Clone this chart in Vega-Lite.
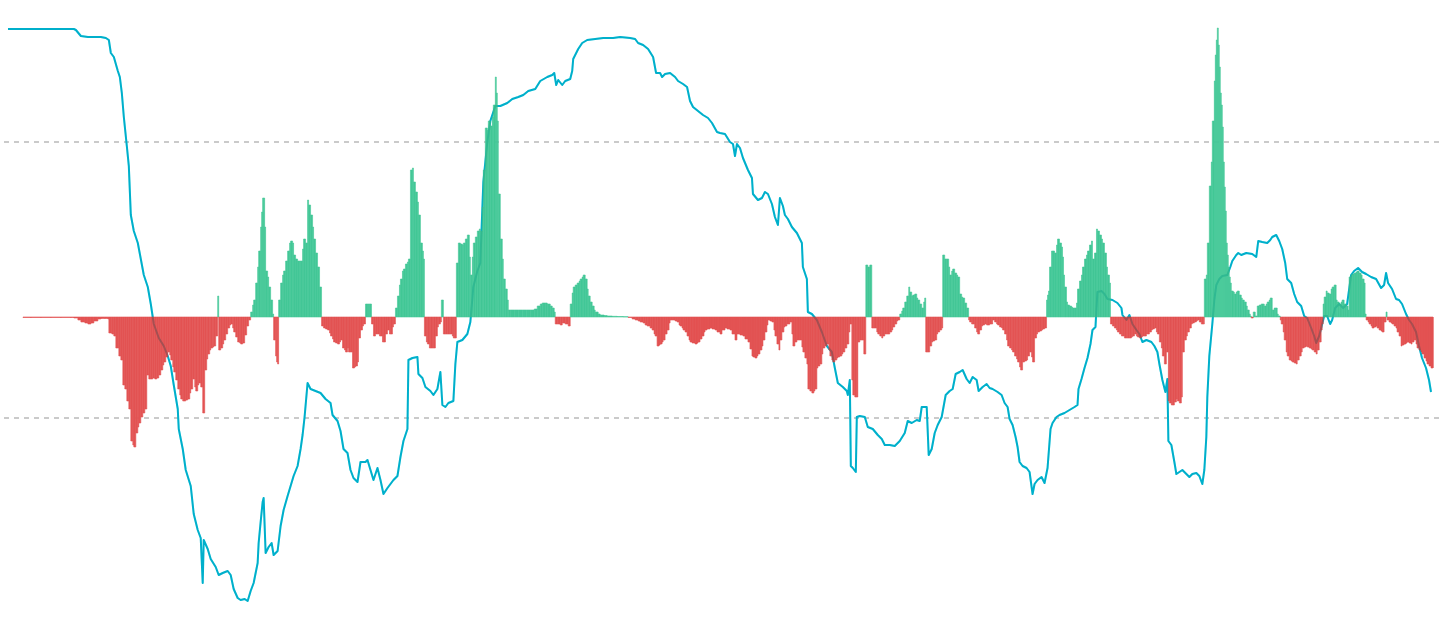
{
  "$schema": "https://vega.github.io/schema/vega-lite/v6.json",
  "width": 1440,
  "height": 633,
  "autosize": {"type": "fit", "contains": "padding"},
  "padding": 0,
  "background": "#ffffff",
  "config": {"view": {"stroke": null}},
  "datasets": {
    "hist": [
      {"t":22,"v":-0.5},{"t":30,"v":-0.5},{"t":40,"v":-0.5},{"t":50,"v":-0.5},{"t":60,"v":-0.5},{"t":70,"v":-0.5},
      {"t":73,"v":-1},{"t":77,"v":-3},{"t":80,"v":-5},{"t":84,"v":-6},{"t":87,"v":-7},{"t":90,"v":-6},{"t":93,"v":-4},{"t":97,"v":-2},{"t":100,"v":-1.5},{"t":104,"v":-1.5},{"t":107,"v":-2},
      {"t":108,"v":-16},{"t":111,"v":-17},{"t":113,"v":-19},{"t":115,"v":-31},{"t":118,"v":-39},{"t":120,"v":-43},{"t":122,"v":-68},{"t":124,"v":-72},{"t":126,"v":-84},{"t":128,"v":-92},{"t":130,"v":-124},{"t":132,"v":-128},{"t":133,"v":-130},{"t":135,"v":-116},{"t":137,"v":-110},{"t":138,"v":-106},{"t":140,"v":-100},{"t":142,"v":-96},{"t":144,"v":-92},{"t":146,"v":-58},{"t":148,"v":-62},{"t":150,"v":-62},{"t":152,"v":-61},{"t":154,"v":-62},{"t":156,"v":-61},{"t":158,"v":-58},{"t":160,"v":-53},{"t":162,"v":-48},{"t":163,"v":-45},{"t":165,"v":-40},{"t":167,"v":-35},{"t":169,"v":-38},{"t":170,"v":-43},{"t":172,"v":-50},{"t":173,"v":-55},{"t":175,"v":-63},{"t":177,"v":-72},{"t":179,"v":-78},{"t":180,"v":-82},{"t":182,"v":-84},{"t":183,"v":-84},{"t":185,"v":-83},{"t":187,"v":-82},{"t":189,"v":-76},{"t":190,"v":-72},{"t":192,"v":-62},{"t":194,"v":-70},{"t":195,"v":-74},{"t":197,"v":-68},{"t":198,"v":-66},{"t":200,"v":-70},{"t":202,"v":-96},{"t":204,"v":-53},{"t":206,"v":-42},{"t":207,"v":-37},{"t":209,"v":-33},{"t":210,"v":-31},{"t":212,"v":-30},{"t":213,"v":-29},{"t":215,"v":-19},{"t":217,"v":21},{"t":218,"v":-33},{"t":220,"v":-31},{"t":222,"v":-27},{"t":223,"v":-23},{"t":225,"v":-17},{"t":227,"v":-11},{"t":229,"v":-8},{"t":230,"v":-7},{"t":232,"v":-11},{"t":233,"v":-15},{"t":235,"v":-20},{"t":237,"v":-25},{"t":239,"v":-26},{"t":240,"v":-27},{"t":242,"v":-26},{"t":244,"v":-18},{"t":246,"v":-9},{"t":248,"v":-3},
      {"t":250,"v":5},{"t":252,"v":12},{"t":253,"v":17},{"t":255,"v":34},{"t":257,"v":50},{"t":258,"v":66},{"t":260,"v":90},{"t":261,"v":105},{"t":262,"v":119},{"t":263,"v":119},{"t":264,"v":90},{"t":265,"v":46},{"t":267,"v":40},{"t":268,"v":30},{"t":270,"v":17},{"t":272,"v":3},{"t":273,"v":-23},{"t":275,"v":-39},{"t":276,"v":-45},{"t":277,"v":-47},{"t":278,"v":17},{"t":280,"v":34},{"t":282,"v":42},{"t":283,"v":46},{"t":285,"v":56},{"t":287,"v":66},{"t":289,"v":74},{"t":290,"v":76},{"t":292,"v":74},{"t":293,"v":62},{"t":295,"v":58},{"t":297,"v":56},{"t":299,"v":56},{"t":300,"v":56},{"t":302,"v":68},{"t":303,"v":78},{"t":305,"v":74},{"t":307,"v":117},{"t":308,"v":112},{"t":310,"v":102},{"t":312,"v":90},{"t":313,"v":78},{"t":315,"v":64},{"t":317,"v":50},{"t":319,"v":30},
      {"t":321,"v":-9},{"t":323,"v":-11},{"t":325,"v":-12},{"t":327,"v":-13},{"t":329,"v":-16},{"t":330,"v":-19},{"t":332,"v":-22},{"t":333,"v":-25},{"t":335,"v":-26},{"t":337,"v":-27},{"t":339,"v":-25},{"t":340,"v":-23},{"t":342,"v":-31},{"t":344,"v":-33},{"t":345,"v":-35},{"t":347,"v":-31},{"t":348,"v":-35},{"t":350,"v":-35},{"t":352,"v":-51},{"t":354,"v":-50},{"t":355,"v":-49},{"t":357,"v":-45},{"t":358,"v":-21},{"t":360,"v":-13},{"t":362,"v":-9},{"t":363,"v":-7},{"t":365,"v":13},{"t":367,"v":13},{"t":368,"v":13},{"t":369,"v":13},{"t":371,"v":-7},{"t":373,"v":-19},{"t":375,"v":-17},{"t":377,"v":-17},{"t":379,"v":-19},{"t":380,"v":-19},{"t":382,"v":-25},{"t":383,"v":-25},{"t":385,"v":-17},{"t":387,"v":-13},{"t":389,"v":-17},{"t":390,"v":-17},{"t":392,"v":-10},{"t":393,"v":-7},
      {"t":395,"v":9},{"t":397,"v":21},{"t":399,"v":32},{"t":400,"v":38},{"t":402,"v":46},{"t":403,"v":48},{"t":405,"v":53},{"t":407,"v":55},{"t":408,"v":58},{"t":410,"v":147},{"t":412,"v":149},{"t":413,"v":135},{"t":415,"v":125},{"t":417,"v":115},{"t":418,"v":102},{"t":420,"v":74},{"t":422,"v":66},{"t":423,"v":58},{"t":424,"v":-19},{"t":426,"v":-25},{"t":427,"v":-27},{"t":429,"v":-31},{"t":430,"v":-31},{"t":432,"v":-31},{"t":433,"v":-31},{"t":435,"v":-19},{"t":437,"v":-10},{"t":438,"v":-7},{"t":440,"v":-5},{"t":441,"v":17},{"t":443,"v":-17},{"t":445,"v":-17},{"t":447,"v":-17},{"t":449,"v":-17},{"t":450,"v":-17},{"t":452,"v":-19},{"t":453,"v":-21},{"t":454,"v":-21},
      {"t":456,"v":54},{"t":458,"v":74},{"t":460,"v":73},{"t":462,"v":72},{"t":463,"v":74},{"t":465,"v":78},{"t":467,"v":82},{"t":469,"v":60},{"t":470,"v":42},{"t":472,"v":60},{"t":473,"v":74},{"t":475,"v":80},{"t":477,"v":86},{"t":479,"v":88},{"t":480,"v":86},{"t":482,"v":110},{"t":483,"v":147},{"t":485,"v":189},{"t":487,"v":187},{"t":488,"v":196},{"t":490,"v":191},{"t":492,"v":200},{"t":493,"v":212},{"t":495,"v":240},{"t":496,"v":224},{"t":497,"v":196},{"t":498,"v":123},{"t":500,"v":78},{"t":502,"v":58},{"t":503,"v":38},{"t":505,"v":28},{"t":507,"v":17},{"t":508,"v":7},{"t":510,"v":7},{"t":514,"v":7},{"t":518,"v":7},{"t":522,"v":7},{"t":526,"v":7},{"t":530,"v":7},{"t":534,"v":8},{"t":537,"v":11},{"t":540,"v":13},{"t":542,"v":14},{"t":545,"v":14},{"t":547,"v":13},{"t":550,"v":11},{"t":552,"v":9},{"t":554,"v":5},
      {"t":555,"v":-7},{"t":557,"v":-7},{"t":560,"v":-8},{"t":562,"v":-6},{"t":565,"v":-7},{"t":568,"v":-9},
      {"t":570,"v":13},{"t":572,"v":24},{"t":573,"v":30},{"t":575,"v":32},{"t":577,"v":34},{"t":579,"v":36},{"t":580,"v":38},{"t":582,"v":40},{"t":583,"v":42},{"t":585,"v":38},{"t":587,"v":28},{"t":588,"v":21},{"t":590,"v":15},{"t":592,"v":11},{"t":594,"v":7},{"t":595,"v":5},{"t":598,"v":3},{"t":600,"v":2},{"t":604,"v":1.5},{"t":607,"v":1},{"t":612,"v":0.7},{"t":617,"v":0.5},{"t":623,"v":0.3},
      {"t":628,"v":-0.5},{"t":632,"v":-2},{"t":635,"v":-3},{"t":638,"v":-4},{"t":640,"v":-5},{"t":643,"v":-6},{"t":645,"v":-8},{"t":647,"v":-9},{"t":650,"v":-11},{"t":652,"v":-13},{"t":654,"v":-17},{"t":655,"v":-19},{"t":657,"v":-29},{"t":659,"v":-28},{"t":660,"v":-27},{"t":662,"v":-25},{"t":663,"v":-23},{"t":665,"v":-17},{"t":667,"v":-13},{"t":669,"v":-6},{"t":670,"v":-3},{"t":672,"v":-3},{"t":675,"v":-4},{"t":677,"v":-5},{"t":679,"v":-8},{"t":680,"v":-9},{"t":682,"v":-11},{"t":683,"v":-13},{"t":685,"v":-15},{"t":687,"v":-19},{"t":689,"v":-23},{"t":690,"v":-25},{"t":692,"v":-26},{"t":695,"v":-27},{"t":697,"v":-26},{"t":698,"v":-25},{"t":700,"v":-22},{"t":702,"v":-19},{"t":704,"v":-15},{"t":705,"v":-13},{"t":707,"v":-12},{"t":710,"v":-11},{"t":712,"v":-12},{"t":715,"v":-13},{"t":717,"v":-15},{"t":720,"v":-17},
      {"t":722,"v":-13},{"t":725,"v":-11},{"t":727,"v":-12},{"t":730,"v":-13},{"t":732,"v":-17},{"t":735,"v":-23},{"t":737,"v":-17},{"t":738,"v":-17},{"t":740,"v":-18},{"t":743,"v":-19},{"t":745,"v":-22},{"t":748,"v":-25},{"t":750,"v":-32},{"t":752,"v":-39},{"t":753,"v":-40},{"t":755,"v":-41},{"t":757,"v":-39},{"t":758,"v":-37},{"t":760,"v":-33},{"t":762,"v":-29},{"t":763,"v":-23},{"t":765,"v":-15},{"t":767,"v":-8},{"t":768,"v":-3},{"t":770,"v":-4},{"t":772,"v":-5},{"t":774,"v":-13},{"t":775,"v":-19},{"t":777,"v":-27},{"t":779,"v":-33},{"t":780,"v":-23},{"t":782,"v":-15},{"t":784,"v":-10},{"t":785,"v":-9},{"t":787,"v":-7},{"t":790,"v":-5},{"t":792,"v":-17},{"t":793,"v":-29},{"t":795,"v":-25},{"t":797,"v":-23},{"t":798,"v":-23},{"t":800,"v":-23},{"t":802,"v":-30},{"t":803,"v":-35},{"t":805,"v":-41},{"t":807,"v":-47},{"t":808,"v":-72},{"t":810,"v":-74},{"t":812,"v":-76},{"t":814,"v":-74},{"t":815,"v":-72},{"t":817,"v":-51},{"t":818,"v":-49},{"t":820,"v":-47},{"t":822,"v":-37},{"t":823,"v":-31},{"t":825,"v":-29},{"t":827,"v":-27},{"t":829,"v":-33},{"t":830,"v":-39},{"t":832,"v":-43},{"t":833,"v":-45},{"t":835,"v":-43},{"t":837,"v":-41},{"t":838,"v":-40},{"t":840,"v":-39},{"t":842,"v":-37},{"t":843,"v":-35},{"t":845,"v":-31},{"t":847,"v":-27},{"t":849,"v":-15},{"t":850,"v":-7},{"t":852,"v":-63},{"t":853,"v":-78},{"t":855,"v":-80},{"t":857,"v":-80},{"t":858,"v":-25},{"t":860,"v":-23},{"t":862,"v":-23},{"t":864,"v":-37},
      {"t":866,"v":52},{"t":868,"v":50},{"t":870,"v":52},
      {"t":872,"v":-11},{"t":874,"v":-11},{"t":875,"v":-11},{"t":877,"v":-15},{"t":878,"v":-17},{"t":880,"v":-19},{"t":882,"v":-21},{"t":883,"v":-19},{"t":885,"v":-17},{"t":887,"v":-17},{"t":888,"v":-17},{"t":890,"v":-15},{"t":892,"v":-13},{"t":893,"v":-10},{"t":895,"v":-7},{"t":897,"v":-4},{"t":898,"v":-3},
      {"t":900,"v":3},{"t":902,"v":6},{"t":903,"v":9},{"t":905,"v":15},{"t":907,"v":21},{"t":909,"v":30},{"t":910,"v":25},{"t":912,"v":21},{"t":913,"v":22},{"t":915,"v":23},{"t":917,"v":19},{"t":918,"v":17},{"t":920,"v":13},{"t":922,"v":9},{"t":924,"v":15},{"t":925,"v":19},
      {"t":926,"v":-35},{"t":928,"v":-35},{"t":930,"v":-29},{"t":932,"v":-25},{"t":933,"v":-24},{"t":935,"v":-23},{"t":937,"v":-17},{"t":938,"v":-15},{"t":940,"v":-13},{"t":942,"v":-11},
      {"t":943,"v":62},{"t":945,"v":58},{"t":947,"v":58},{"t":949,"v":50},{"t":950,"v":42},{"t":952,"v":46},{"t":953,"v":48},{"t":955,"v":44},{"t":957,"v":42},{"t":958,"v":40},{"t":960,"v":23},{"t":962,"v":20},{"t":963,"v":19},{"t":965,"v":14},{"t":967,"v":9},
      {"t":969,"v":-3},{"t":970,"v":-5},{"t":972,"v":-7},{"t":973,"v":-7},{"t":975,"v":-11},{"t":977,"v":-15},{"t":978,"v":-17},{"t":980,"v":-13},{"t":982,"v":-9},{"t":983,"v":-8},{"t":985,"v":-7},{"t":987,"v":-8},{"t":988,"v":-8},{"t":990,"v":-7},{"t":992,"v":-7},{"t":993,"v":-3},{"t":995,"v":-5},{"t":997,"v":-7},{"t":998,"v":-8},{"t":1000,"v":-10},{"t":1002,"v":-11},{"t":1003,"v":-13},{"t":1005,"v":-17},{"t":1007,"v":-23},{"t":1008,"v":-29},{"t":1010,"v":-31},{"t":1012,"v":-33},{"t":1013,"v":-35},{"t":1015,"v":-39},{"t":1017,"v":-42},{"t":1018,"v":-45},{"t":1020,"v":-50},{"t":1021,"v":-53},{"t":1023,"v":-45},{"t":1025,"v":-44},{"t":1027,"v":-43},{"t":1028,"v":-39},{"t":1030,"v":-35},{"t":1032,"v":-40},{"t":1033,"v":-45},{"t":1035,"v":-21},{"t":1037,"v":-17},{"t":1038,"v":-15},{"t":1040,"v":-14},{"t":1042,"v":-13},{"t":1043,"v":-12},{"t":1045,"v":-11},
      {"t":1047,"v":17},{"t":1048,"v":22},{"t":1049,"v":26},{"t":1050,"v":50},{"t":1052,"v":66},{"t":1053,"v":66},{"t":1055,"v":64},{"t":1057,"v":72},{"t":1058,"v":78},{"t":1060,"v":74},{"t":1062,"v":70},{"t":1063,"v":60},{"t":1064,"v":42},{"t":1065,"v":30},{"t":1067,"v":15},{"t":1068,"v":12},{"t":1070,"v":11},{"t":1072,"v":10},{"t":1073,"v":9},{"t":1075,"v":9},{"t":1077,"v":14},{"t":1078,"v":28},{"t":1080,"v":36},{"t":1082,"v":42},{"t":1083,"v":50},{"t":1085,"v":58},{"t":1087,"v":62},{"t":1088,"v":66},{"t":1090,"v":72},{"t":1092,"v":76},{"t":1093,"v":58},{"t":1095,"v":64},{"t":1097,"v":88},{"t":1098,"v":86},{"t":1100,"v":82},{"t":1102,"v":78},{"t":1103,"v":74},{"t":1105,"v":64},{"t":1107,"v":50},{"t":1108,"v":42},{"t":1110,"v":34},
      {"t":1111,"v":-7},{"t":1113,"v":-9},{"t":1115,"v":-11},{"t":1117,"v":-13},{"t":1118,"v":-15},{"t":1120,"v":-17},{"t":1122,"v":-19},{"t":1123,"v":-19},{"t":1125,"v":-21},{"t":1127,"v":-21},{"t":1128,"v":-21},{"t":1130,"v":-21},{"t":1132,"v":-20},{"t":1133,"v":-19},{"t":1135,"v":-17},{"t":1137,"v":-19},{"t":1138,"v":-20},{"t":1140,"v":-21},{"t":1142,"v":-20},{"t":1143,"v":-19},{"t":1145,"v":-19},{"t":1147,"v":-17},{"t":1148,"v":-17},{"t":1150,"v":-15},{"t":1152,"v":-13},{"t":1153,"v":-12},{"t":1155,"v":-11},{"t":1157,"v":-15},{"t":1158,"v":-17},{"t":1160,"v":-25},{"t":1162,"v":-31},{"t":1163,"v":-39},{"t":1165,"v":-47},{"t":1167,"v":-35},{"t":1169,"v":-84},{"t":1170,"v":-86},{"t":1172,"v":-88},{"t":1173,"v":-88},{"t":1175,"v":-85},{"t":1177,"v":-82},{"t":1178,"v":-84},{"t":1180,"v":-86},{"t":1182,"v":-80},{"t":1183,"v":-35},{"t":1185,"v":-23},{"t":1187,"v":-19},{"t":1188,"v":-15},{"t":1190,"v":-11},{"t":1192,"v":-7},{"t":1193,"v":-6},{"t":1195,"v":-5},{"t":1197,"v":-4},{"t":1198,"v":-3},{"t":1200,"v":-5},{"t":1202,"v":-7},{"t":1204,"v":-7},
      {"t":1205,"v":38},{"t":1207,"v":42},{"t":1208,"v":74},{"t":1210,"v":131},{"t":1212,"v":155},{"t":1213,"v":196},{"t":1215,"v":236},{"t":1216,"v":262},{"t":1217,"v":277},{"t":1218,"v":289},{"t":1219,"v":272},{"t":1220,"v":250},{"t":1221,"v":224},{"t":1222,"v":212},{"t":1223,"v":190},{"t":1224,"v":155},{"t":1225,"v":130},{"t":1226,"v":106},{"t":1227,"v":74},{"t":1228,"v":62},{"t":1229,"v":50},{"t":1230,"v":40},{"t":1231,"v":34},{"t":1232,"v":26},{"t":1234,"v":25},{"t":1235,"v":23},{"t":1237,"v":25},{"t":1238,"v":26},{"t":1240,"v":22},{"t":1242,"v":19},{"t":1243,"v":17},{"t":1245,"v":15},{"t":1247,"v":11},{"t":1248,"v":7},{"t":1250,"v":3},{"t":1251,"v":1},{"t":1252,"v":-1},{"t":1254,"v":5},{"t":1256,"v":1},{"t":1258,"v":11},{"t":1260,"v":12},{"t":1262,"v":13},{"t":1264,"v":13},{"t":1265,"v":11},{"t":1267,"v":13},{"t":1268,"v":15},{"t":1270,"v":17},{"t":1271,"v":19},{"t":1273,"v":7},{"t":1275,"v":9},{"t":1276,"v":9},{"t":1278,"v":3},{"t":1279,"v":1},
      {"t":1281,"v":-3},{"t":1282,"v":-7},{"t":1284,"v":-15},{"t":1285,"v":-23},{"t":1287,"v":-35},{"t":1288,"v":-39},{"t":1290,"v":-43},{"t":1292,"v":-44},{"t":1293,"v":-45},{"t":1295,"v":-46},{"t":1297,"v":-47},{"t":1298,"v":-43},{"t":1300,"v":-39},{"t":1302,"v":-35},{"t":1303,"v":-31},{"t":1305,"v":-30},{"t":1307,"v":-29},{"t":1308,"v":-30},{"t":1310,"v":-31},{"t":1312,"v":-32},{"t":1313,"v":-33},{"t":1315,"v":-35},{"t":1317,"v":-37},{"t":1318,"v":-33},{"t":1320,"v":-25},{"t":1322,"v":-13},{"t":1323,"v":-7},
      {"t":1324,"v":13},{"t":1325,"v":20},{"t":1327,"v":26},{"t":1328,"v":24},{"t":1330,"v":23},{"t":1332,"v":28},{"t":1333,"v":30},{"t":1335,"v":32},{"t":1337,"v":17},{"t":1338,"v":15},{"t":1340,"v":13},{"t":1342,"v":15},{"t":1343,"v":17},{"t":1345,"v":13},{"t":1347,"v":11},{"t":1349,"v":7},{"t":1350,"v":40},{"t":1352,"v":42},{"t":1353,"v":43},{"t":1355,"v":44},{"t":1357,"v":45},{"t":1358,"v":46},{"t":1360,"v":44},{"t":1362,"v":42},{"t":1363,"v":38},{"t":1365,"v":34},{"t":1366,"v":3},
      {"t":1367,"v":-3},{"t":1369,"v":-5},{"t":1370,"v":-7},{"t":1372,"v":-9},{"t":1373,"v":-11},{"t":1375,"v":-10},{"t":1377,"v":-9},{"t":1378,"v":-11},{"t":1380,"v":-13},{"t":1382,"v":-14},{"t":1383,"v":-15},{"t":1385,"v":-5},{"t":1387,"v":5},{"t":1388,"v":-3},{"t":1390,"v":-5},{"t":1392,"v":-6},{"t":1393,"v":-7},{"t":1395,"v":-9},{"t":1397,"v":-11},{"t":1398,"v":-15},{"t":1400,"v":-19},{"t":1402,"v":-29},{"t":1403,"v":-28},{"t":1405,"v":-27},{"t":1407,"v":-26},{"t":1408,"v":-25},{"t":1410,"v":-26},{"t":1412,"v":-27},{"t":1413,"v":-25},{"t":1415,"v":-23},{"t":1417,"v":-27},{"t":1418,"v":-31},{"t":1420,"v":-33},{"t":1422,"v":-35},{"t":1423,"v":-37},{"t":1425,"v":-41},{"t":1427,"v":-44},{"t":1428,"v":-47},{"t":1430,"v":-49},{"t":1432,"v":-51},{"t":1433,"v":-51},{"t":1434,"v":-51}
    ],
    "line": [
      {"t":7,"v":288},{"t":20,"v":288},{"t":40,"v":288},{"t":60,"v":288},{"t":73,"v":288},{"t":75,"v":287},{"t":80,"v":281},{"t":87,"v":280},{"t":100,"v":280},{"t":105,"v":279},{"t":108,"v":277},{"t":110,"v":264},{"t":113,"v":260},{"t":117,"v":246},{"t":119,"v":240},{"t":121,"v":224},{"t":123,"v":200},{"t":126,"v":171},{"t":128,"v":151},{"t":130,"v":102},{"t":133,"v":86},{"t":137,"v":74},{"t":140,"v":58},{"t":143,"v":42},{"t":147,"v":30},{"t":150,"v":13},{"t":153,"v":-7},{"t":158,"v":-21},{"t":163,"v":-29},{"t":167,"v":-39},{"t":170,"v":-49},{"t":173,"v":-68},{"t":177,"v":-92},{"t":178,"v":-112},{"t":182,"v":-132},{"t":185,"v":-153},{"t":190,"v":-169},{"t":193,"v":-197},{"t":197,"v":-213},{"t":200,"v":-221},{"t":202,"v":-266},{"t":203,"v":-223},{"t":207,"v":-232},{"t":210,"v":-242},{"t":215,"v":-250},{"t":218,"v":-258},{"t":222,"v":-256},{"t":227,"v":-254},{"t":230,"v":-258},{"t":233,"v":-272},{"t":237,"v":-281},{"t":240,"v":-283},{"t":244,"v":-282},{"t":247,"v":-284},{"t":250,"v":-274},{"t":253,"v":-266},{"t":257,"v":-246},{"t":258,"v":-226},{"t":260,"v":-205},{"t":262,"v":-185},{"t":263,"v":-181},{"t":265,"v":-236},{"t":268,"v":-230},{"t":271,"v":-226},{"t":273,"v":-238},{"t":277,"v":-234},{"t":280,"v":-209},{"t":283,"v":-193},{"t":287,"v":-179},{"t":290,"v":-169},{"t":293,"v":-159},{"t":297,"v":-149},{"t":300,"v":-132},{"t":302,"v":-118},{"t":304,"v":-100},{"t":307,"v":-66},{"t":310,"v":-72},{"t":315,"v":-74},{"t":320,"v":-76},{"t":325,"v":-82},{"t":330,"v":-86},{"t":332,"v":-98},{"t":337,"v":-104},{"t":340,"v":-114},{"t":343,"v":-132},{"t":347,"v":-136},{"t":350,"v":-153},{"t":353,"v":-161},{"t":357,"v":-165},{"t":360,"v":-145},{"t":365,"v":-145},{"t":367,"v":-143},{"t":370,"v":-153},{"t":373,"v":-163},{"t":377,"v":-151},{"t":380,"v":-163},{"t":383,"v":-177},{"t":387,"v":-171},{"t":390,"v":-167},{"t":393,"v":-163},{"t":397,"v":-159},{"t":400,"v":-140},{"t":403,"v":-124},{"t":407,"v":-112},{"t":408,"v":-43},{"t":412,"v":-41},{"t":417,"v":-40},{"t":418,"v":-57},{"t":422,"v":-61},{"t":425,"v":-70},{"t":430,"v":-74},{"t":433,"v":-78},{"t":437,"v":-72},{"t":440,"v":-55},{"t":442,"v":-88},{"t":445,"v":-90},{"t":448,"v":-86},{"t":453,"v":-84},{"t":455,"v":-47},{"t":457,"v":-25},{"t":462,"v":-23},{"t":467,"v":-17},{"t":470,"v":-5},{"t":473,"v":30},{"t":477,"v":46},{"t":480,"v":54},{"t":483,"v":135},{"t":487,"v":175},{"t":490,"v":196},{"t":495,"v":211},{"t":500,"v":211},{"t":507,"v":214},{"t":512,"v":218},{"t":518,"v":220},{"t":523,"v":222},{"t":528,"v":226},{"t":535,"v":228},{"t":540,"v":236},{"t":547,"v":240},{"t":552,"v":242},{"t":554,"v":244},{"t":556,"v":232},{"t":558,"v":237},{"t":562,"v":232},{"t":565,"v":236},{"t":570,"v":238},{"t":572,"v":246},{"t":573,"v":258},{"t":578,"v":268},{"t":582,"v":274},{"t":587,"v":277},{"t":595,"v":278},{"t":603,"v":279},{"t":613,"v":279},{"t":620,"v":280},{"t":630,"v":279},{"t":635,"v":278},{"t":638,"v":274},{"t":643,"v":272},{"t":648,"v":268},{"t":653,"v":260},{"t":656,"v":244},{"t":660,"v":244},{"t":662,"v":240},{"t":665,"v":243},{"t":670,"v":244},{"t":675,"v":240},{"t":678,"v":236},{"t":683,"v":233},{"t":687,"v":230},{"t":690,"v":216},{"t":693,"v":210},{"t":698,"v":206},{"t":703,"v":202},{"t":708,"v":199},{"t":712,"v":194},{"t":717,"v":185},{"t":720,"v":184},{"t":725,"v":183},{"t":730,"v":175},{"t":733,"v":173},{"t":735,"v":161},{"t":737,"v":173},{"t":740,"v":169},{"t":743,"v":159},{"t":748,"v":147},{"t":752,"v":139},{"t":753,"v":123},{"t":758,"v":117},{"t":762,"v":119},{"t":765,"v":125},{"t":768,"v":123},{"t":772,"v":113},{"t":775,"v":100},{"t":778,"v":92},{"t":780,"v":119},{"t":783,"v":111},{"t":785,"v":102},{"t":788,"v":98},{"t":792,"v":90},{"t":797,"v":84},{"t":802,"v":74},{"t":803,"v":50},{"t":807,"v":38},{"t":808,"v":5},{"t":812,"v":3},{"t":817,"v":-3},{"t":822,"v":-15},{"t":827,"v":-29},{"t":832,"v":-35},{"t":835,"v":-51},{"t":838,"v":-66},{"t":843,"v":-70},{"t":847,"v":-74},{"t":848,"v":-78},{"t":850,"v":-63},{"t":851,"v":-149},{"t":853,"v":-151},{"t":856,"v":-155},{"t":857,"v":-100},{"t":860,"v":-99},{"t":865,"v":-100},{"t":868,"v":-110},{"t":873,"v":-112},{"t":878,"v":-118},{"t":882,"v":-122},{"t":885,"v":-128},{"t":890,"v":-128},{"t":895,"v":-129},{"t":900,"v":-124},{"t":905,"v":-116},{"t":908,"v":-104},{"t":912,"v":-106},{"t":917,"v":-103},{"t":920,"v":-104},{"t":922,"v":-90},{"t":927,"v":-90},{"t":929,"v":-138},{"t":932,"v":-132},{"t":935,"v":-116},{"t":938,"v":-108},{"t":942,"v":-100},{"t":946,"v":-78},{"t":950,"v":-74},{"t":953,"v":-72},{"t":956,"v":-57},{"t":960,"v":-55},{"t":963,"v":-53},{"t":967,"v":-62},{"t":970,"v":-66},{"t":973,"v":-60},{"t":977,"v":-63},{"t":979,"v":-74},{"t":983,"v":-70},{"t":987,"v":-67},{"t":990,"v":-71},{"t":993,"v":-72},{"t":998,"v":-75},{"t":1002,"v":-78},{"t":1005,"v":-86},{"t":1008,"v":-90},{"t":1010,"v":-102},{"t":1013,"v":-108},{"t":1016,"v":-120},{"t":1018,"v":-130},{"t":1020,"v":-145},{"t":1023,"v":-149},{"t":1027,"v":-151},{"t":1030,"v":-155},{"t":1033,"v":-177},{"t":1035,"v":-167},{"t":1038,"v":-163},{"t":1042,"v":-160},{"t":1045,"v":-166},{"t":1048,"v":-151},{"t":1051,"v":-112},{"t":1053,"v":-106},{"t":1057,"v":-100},{"t":1060,"v":-98},{"t":1065,"v":-96},{"t":1070,"v":-93},{"t":1075,"v":-90},{"t":1078,"v":-88},{"t":1079,"v":-72},{"t":1082,"v":-62},{"t":1085,"v":-51},{"t":1088,"v":-41},{"t":1091,"v":-27},{"t":1093,"v":-13},{"t":1096,"v":-10},{"t":1097,"v":9},{"t":1098,"v":25},{"t":1102,"v":26},{"t":1105,"v":23},{"t":1108,"v":18},{"t":1113,"v":17},{"t":1118,"v":14},{"t":1122,"v":9},{"t":1123,"v":2},{"t":1127,"v":-3},{"t":1130,"v":2},{"t":1133,"v":-7},{"t":1137,"v":-13},{"t":1140,"v":-17},{"t":1143,"v":-25},{"t":1147,"v":-23},{"t":1152,"v":-25},{"t":1155,"v":-29},{"t":1158,"v":-35},{"t":1160,"v":-47},{"t":1163,"v":-63},{"t":1166,"v":-75},{"t":1168,"v":-62},{"t":1169,"v":-124},{"t":1172,"v":-128},{"t":1175,"v":-145},{"t":1177,"v":-157},{"t":1180,"v":-155},{"t":1183,"v":-153},{"t":1187,"v":-157},{"t":1190,"v":-160},{"t":1193,"v":-157},{"t":1197,"v":-156},{"t":1200,"v":-159},{"t":1203,"v":-167},{"t":1205,"v":-153},{"t":1207,"v":-120},{"t":1208,"v":-80},{"t":1210,"v":-39},{"t":1213,"v":-7},{"t":1215,"v":17},{"t":1217,"v":32},{"t":1220,"v":38},{"t":1223,"v":41},{"t":1228,"v":42},{"t":1231,"v":50},{"t":1233,"v":56},{"t":1237,"v":62},{"t":1239,"v":64},{"t":1242,"v":62},{"t":1247,"v":64},{"t":1253,"v":63},{"t":1257,"v":60},{"t":1259,"v":76},{"t":1263,"v":75},{"t":1268,"v":74},{"t":1271,"v":77},{"t":1273,"v":80},{"t":1277,"v":82},{"t":1280,"v":76},{"t":1283,"v":68},{"t":1286,"v":54},{"t":1288,"v":38},{"t":1292,"v":34},{"t":1295,"v":23},{"t":1298,"v":15},{"t":1302,"v":11},{"t":1305,"v":1},{"t":1308,"v":-1},{"t":1312,"v":-11},{"t":1315,"v":-19},{"t":1317,"v":-26},{"t":1320,"v":-19},{"t":1323,"v":-7},{"t":1325,"v":1},{"t":1328,"v":1},{"t":1331,"v":-7},{"t":1333,"v":-3},{"t":1336,"v":9},{"t":1340,"v":13},{"t":1344,"v":9},{"t":1348,"v":13},{"t":1352,"v":42},{"t":1355,"v":46},{"t":1359,"v":49},{"t":1363,"v":45},{"t":1367,"v":43},{"t":1372,"v":40},{"t":1377,"v":38},{"t":1382,"v":29},{"t":1385,"v":32},{"t":1387,"v":44},{"t":1389,"v":34},{"t":1393,"v":28},{"t":1397,"v":18},{"t":1400,"v":17},{"t":1403,"v":13},{"t":1407,"v":3},{"t":1410,"v":-3},{"t":1413,"v":-7},{"t":1417,"v":-15},{"t":1420,"v":-29},{"t":1423,"v":-41},{"t":1427,"v":-51},{"t":1430,"v":-63},{"t":1432,"v":-75}
    ]
  },
  "layer": [
    {
      "data": {"values": [{"level": 175}, {"level": -101}]},
      "mark": {"type": "rule", "color": "#959595", "strokeWidth": 1, "strokeDash": [5, 5]},
      "encoding": {
        "y": {"field": "level", "type": "quantitative", "scale": {"domain": [-316, 317], "nice": false, "zero": false}, "axis": null}
      }
    },
    {
      "data": {"name": "line"},
      "mark": {"type": "line", "color": "#00bcd4", "strokeWidth": 2, "strokeJoin": "round"},
      "encoding": {
        "x": {"field": "t", "type": "quantitative", "scale": {"domain": [0, 1440], "nice": false, "zero": false}, "axis": null},
        "y": {"field": "v", "type": "quantitative", "axis": null}
      }
    },
    {
      "data": {"name": "hist"},
      "transform": [
        {"window": [{"op": "lead", "field": "t", "as": "tnext"}], "sort": [{"field": "t", "order": "ascending"}]}
      ],
      "mark": {"type": "bar", "strokeWidth": 0.6},
      "encoding": {
        "x": {"field": "t", "type": "quantitative", "axis": null},
        "x2": {"field": "tnext"},
        "y": {"field": "v", "type": "quantitative", "axis": null},
        "y2": {"datum": 0},
        "color": {"condition": {"test": "datum.v >= 0", "value": "#43c797"}, "value": "#e35353"},
        "stroke": {"condition": {"test": "datum.v >= 0", "value": "#43c797"}, "value": "#e35353"}
      }
    },
    {
      "data": {"name": "line"},
      "mark": {"type": "line", "color": "#00bcd4", "strokeWidth": 2, "strokeJoin": "round", "opacity": 0.25, "blend": "multiply"},
      "encoding": {
        "x": {"field": "t", "type": "quantitative", "axis": null},
        "y": {"field": "v", "type": "quantitative", "axis": null}
      }
    }
  ]
}
